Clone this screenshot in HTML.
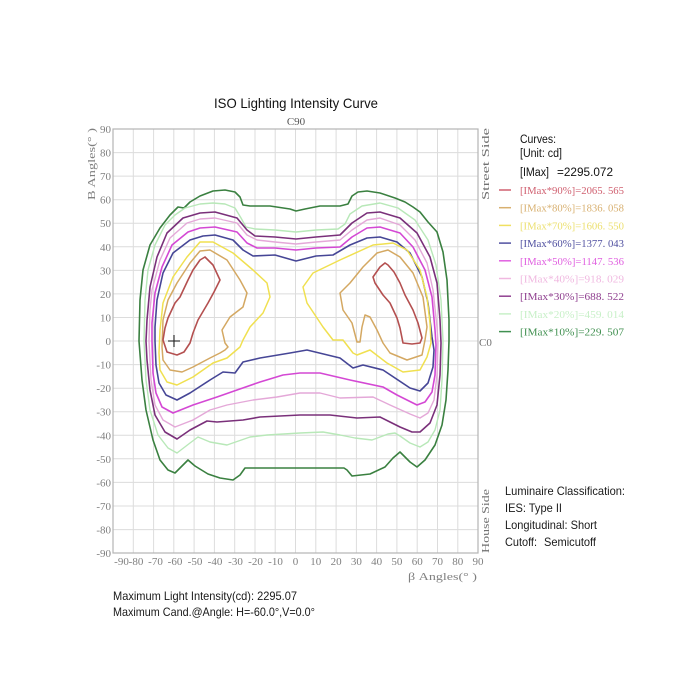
<!DOCTYPE html>
<html><head><meta charset="utf-8"><style>
html,body{margin:0;padding:0;background:#fff;}
svg{display:block;}
.ser{font-family:"Liberation Serif",serif;}
.san{font-family:"Liberation Sans",sans-serif;}
</style></head><body>
<svg width="700" height="700" viewBox="0 0 700 700" xmlns="http://www.w3.org/2000/svg">
<rect width="700" height="700" fill="#fff"/>
<!-- grid -->
<g stroke="#dcdcdc" stroke-width="1">
<line x1="133.3" y1="129" x2="133.3" y2="553"/><line x1="153.6" y1="129" x2="153.6" y2="553"/><line x1="173.8" y1="129" x2="173.8" y2="553"/><line x1="194.1" y1="129" x2="194.1" y2="553"/><line x1="214.4" y1="129" x2="214.4" y2="553"/><line x1="234.7" y1="129" x2="234.7" y2="553"/><line x1="255" y1="129" x2="255" y2="553"/><line x1="275.2" y1="129" x2="275.2" y2="553"/><line x1="295.5" y1="129" x2="295.5" y2="553"/><line x1="315.8" y1="129" x2="315.8" y2="553"/><line x1="336.1" y1="129" x2="336.1" y2="553"/><line x1="356.4" y1="129" x2="356.4" y2="553"/><line x1="376.6" y1="129" x2="376.6" y2="553"/><line x1="396.9" y1="129" x2="396.9" y2="553"/><line x1="417.2" y1="129" x2="417.2" y2="553"/><line x1="437.5" y1="129" x2="437.5" y2="553"/><line x1="457.8" y1="129" x2="457.8" y2="553"/>
<line x1="113" y1="152.6" x2="478" y2="152.6"/><line x1="113" y1="176.1" x2="478" y2="176.1"/><line x1="113" y1="199.7" x2="478" y2="199.7"/><line x1="113" y1="223.2" x2="478" y2="223.2"/><line x1="113" y1="246.8" x2="478" y2="246.8"/><line x1="113" y1="270.4" x2="478" y2="270.4"/><line x1="113" y1="293.9" x2="478" y2="293.9"/><line x1="113" y1="317.5" x2="478" y2="317.5"/><line x1="113" y1="341" x2="478" y2="341"/><line x1="113" y1="364.6" x2="478" y2="364.6"/><line x1="113" y1="388.2" x2="478" y2="388.2"/><line x1="113" y1="411.7" x2="478" y2="411.7"/><line x1="113" y1="435.3" x2="478" y2="435.3"/><line x1="113" y1="458.8" x2="478" y2="458.8"/><line x1="113" y1="482.4" x2="478" y2="482.4"/><line x1="113" y1="506" x2="478" y2="506"/><line x1="113" y1="529.6" x2="478" y2="529.6"/>
</g>
<rect x="113" y="129" width="365" height="424" fill="none" stroke="#b4b4b4" stroke-width="1.2"/>

<!-- title -->
<text class="san" x="296" y="108" font-size="14" text-anchor="middle" fill="#111" textLength="164" lengthAdjust="spacingAndGlyphs">ISO Lighting Intensity Curve</text>
<text class="ser" x="296" y="125" font-size="11" text-anchor="middle" fill="#555">C90</text>

<!-- y labels -->
<g class="ser" font-size="11" fill="#808080" text-anchor="end">
<text x="111" y="133">90</text><text x="111" y="156.6">80</text><text x="111" y="180.1">70</text><text x="111" y="203.7">60</text><text x="111" y="227.2">50</text><text x="111" y="250.8">40</text><text x="111" y="274.4">30</text><text x="111" y="297.9">20</text><text x="111" y="321.5">10</text><text x="111" y="345">0</text><text x="111" y="368.6">-10</text><text x="111" y="392.2">-20</text><text x="111" y="415.7">-30</text><text x="111" y="439.3">-40</text><text x="111" y="462.8">-50</text><text x="111" y="486.4">-60</text><text x="111" y="510">-70</text><text x="111" y="533.6">-80</text><text x="111" y="557">-90</text>
</g>
<!-- x labels -->
<g class="ser" font-size="11" fill="#808080" text-anchor="middle">
<text x="121.5" y="565">-90</text><text x="136" y="565">-80</text><text x="155.5" y="565">-70</text><text x="175" y="565">-60</text><text x="195" y="565">-50</text><text x="215" y="565">-40</text><text x="235.5" y="565">-30</text><text x="255.5" y="565">-20</text><text x="275.5" y="565">-10</text><text x="295.5" y="565">0</text><text x="315.8" y="565">10</text><text x="336.1" y="565">20</text><text x="356.4" y="565">30</text><text x="376.6" y="565">40</text><text x="396.9" y="565">50</text><text x="417.2" y="565">60</text><text x="437.5" y="565">70</text><text x="457.8" y="565">80</text><text x="478" y="565">90</text>
</g>
<text class="ser" x="408" y="580" font-size="11" fill="#808080" textLength="69" lengthAdjust="spacingAndGlyphs">β Angles(° )</text>
<text class="ser" transform="translate(95,200) rotate(-90)" font-size="11" fill="#808080" textLength="72" lengthAdjust="spacingAndGlyphs">B Angles(° )</text>
<text class="ser" transform="translate(489,200) rotate(-90)" font-size="11" fill="#707070" textLength="72" lengthAdjust="spacingAndGlyphs">Street Side</text>
<text class="ser" transform="translate(489,553) rotate(-90)" font-size="11" fill="#707070" textLength="64" lengthAdjust="spacingAndGlyphs">House Side</text>
<text class="ser" x="479" y="346" font-size="11" fill="#707070">C0</text>

<!-- curves -->
<g fill="none" stroke-linejoin="round" stroke-linecap="round">
<polyline stroke="#3a8040" stroke-width="1.6" points="139,341 140,300 143,270 150,245 160,228 170,215 178,207 184,208 190,202 200,196 213,191 225,190 235,192 240,197 243,205 250,206 270,206 290,209 296,211 305,209 320,206 340,206 348,204 352,196 358,192 367,191 380,193 395,198 405,202 413,207 420,212 428,222 437,232 443,252 447,280 449,320 449,341 448,370 446,400 442,425 435,445 425,460 417,467 410,462 400,452 393,458 385,467 370,474 352,476 347,470 344,468 300,468 260,468 245,468 240,475 233,480 220,478 208,474 195,466 188,460 182,466 175,473 168,470 160,460 153,440 146,410 142,380 139,341"/>
<polyline stroke="#b8e8b8" stroke-width="1.4" points="177,453 168,448 158,435 150,410 146,380 144,341 145,300 148,270 155,245 165,225 175,215 185,208 200,204 213,203 225,204 235,208 241,218 246,227 255,229 275,230 296,232 316,230 338,229 345,224 350,214 362,206 380,203 398,208 415,220 428,240 436,265 441,300 443,341 442,380 440,410 435,430 428,442 420,447 410,443 400,436 395,433 388,434 372,440 355,438 340,435 323,432 300,433 267,435 250,437 227,445 210,442 198,437 190,443 177,453"/>
<polyline stroke="#7a307a" stroke-width="1.6" points="177,439 165,432 155,415 150,390 147,360 146,341 147,320 150,287 157,257 167,233 183,218 200,213 215,212 237,218 247,230 255,236 275,237 296,239 316,237 340,235 352,223 367,213 380,212 400,218 417,233 430,257 437,283 440,320 441,343 440,375 437,405 430,423 420,432 412,432 400,427 390,422 380,417 357,418 330,415 300,415 260,417 243,420 217,422 207,421 190,430 177,439"/>
<polyline stroke="#e4a8d8" stroke-width="1.4" points="175,427 163,420 155,405 151,380 149,341 150,310 152,290 160,260 170,238 187,223 200,219 215,218 237,223 247,235 257,240 275,242 296,244 316,242 340,240 352,230 367,220 380,218 400,225 415,240 427,263 433,290 437,327 438,343 437,375 434,400 428,413 420,418 410,414 390,405 373,397 340,398 320,393 300,393 277,397 253,400 227,405 210,410 193,420 175,427"/>
<polyline stroke="#d448d4" stroke-width="1.6" points="173,413 162,407 156,393 153,373 152,341 152,323 155,293 162,267 172,245 188,232 200,228 215,227 237,232 247,243 257,248 275,248 296,250 316,248 340,247 352,237 367,228 380,227 400,233 413,247 425,270 432,297 435,330 436,345 435,375 432,392 425,402 417,405 397,395 383,387 350,380 320,373 300,373 283,375 260,382 237,390 217,397 193,405 173,413"/>
<polyline stroke="#464696" stroke-width="1.6" points="177,400 166,395 159,383 156,365 155,341 155,327 157,300 163,273 173,253 190,240 203,236 215,235 233,240 243,250 253,256 275,255 296,261 316,256 333,255 350,245 367,238 380,237 397,242 410,253 422,277 428,303 432,337 434,350 433,367 428,383 420,391 410,388 383,370 363,365 353,368 340,358 307,350 290,353 260,358 243,362 235,373 223,372 210,380 190,393 177,400"/>
<polyline stroke="#f0e050" stroke-width="1.5" points="160,330 163,303 173,277 187,257 200,242 213,242 233,253 253,270 267,283 270,297 263,313 250,327 243,340 240,347 227,358 213,363 193,377 177,385 167,382 160,370 159,353 160,330"/>
<polyline stroke="#f0e050" stroke-width="1.5" points="303,287 313,273 340,260 373,245 393,243 407,250 420,270 427,297 430,323 431,343 427,357 420,370 403,372 387,363 370,350 357,355 353,353 343,340 333,340 323,327 307,303 303,287"/>
<polyline stroke="#d4a862" stroke-width="1.5" points="162,347 163,320 168,300 177,283 190,263 200,251 210,250 227,260 240,280 247,293 243,307 230,317 222,330 225,343 228,347 225,350 220,353 210,358 193,367 182,372 170,370 163,360 162,347"/>
<polyline stroke="#d4a862" stroke-width="1.5" points="388,250 377,253 363,267 350,283 340,293 343,310 352,323 357,342 360,342 362,327 365,315 370,317 377,330 383,343 390,353 407,360 422,355 425,340 427,327 423,297 413,273 400,257 388,250"/>
<polyline stroke="#b45050" stroke-width="1.6" points="205,257 213,265 220,280 214,292 208,303 198,320 193,333 190,343 184,352 177,355 167,352 163,340 165,328 168,318 175,303 180,297 188,280 193,270 200,260 205,257"/>
<polyline stroke="#b45050" stroke-width="1.6" points="385,263 380,267 373,277 375,283 383,295 390,303 397,318 400,328 403,343 412,344 420,343 422,338 418,323 413,310 405,295 400,283 394,272 388,265 385,263"/>
</g>
<!-- max marker -->
<g stroke="#222" stroke-width="1.1"><line x1="168" y1="341" x2="180" y2="341"/><line x1="174" y1="335" x2="174" y2="347"/></g>

<!-- legend -->
<g class="san" font-size="11.5" fill="#111">
<text x="520" y="143" textLength="36" lengthAdjust="spacingAndGlyphs">Curves:</text>
<text x="520" y="157" textLength="42" lengthAdjust="spacingAndGlyphs">[Unit: cd]</text>
<text x="520" y="176" textLength="29" lengthAdjust="spacingAndGlyphs">[IMax]</text>
<text x="557" y="176" textLength="56" lengthAdjust="spacingAndGlyphs">=2295.072</text>
</g>
<g class="ser" font-size="11" stroke-width="1.5">
<line x1="499" y1="190" x2="511" y2="190" stroke="#d06070"/><text x="520" y="194" fill="#d06070" textLength="104" lengthAdjust="spacingAndGlyphs">[IMax*90%]=2065. 565</text>
<line x1="499" y1="207.7" x2="511" y2="207.7" stroke="#d8b070"/><text x="520" y="211.7" fill="#d8b070" textLength="104" lengthAdjust="spacingAndGlyphs">[IMax*80%]=1836. 058</text>
<line x1="499" y1="225.4" x2="511" y2="225.4" stroke="#f0e060"/><text x="520" y="229.4" fill="#ece070" textLength="104" lengthAdjust="spacingAndGlyphs">[IMax*70%]=1606. 550</text>
<line x1="499" y1="243.1" x2="511" y2="243.1" stroke="#5050a0"/><text x="520" y="247.1" fill="#5050a0" textLength="104" lengthAdjust="spacingAndGlyphs">[IMax*60%]=1377. 043</text>
<line x1="499" y1="260.8" x2="511" y2="260.8" stroke="#e060e0"/><text x="520" y="264.8" fill="#e060e0" textLength="104" lengthAdjust="spacingAndGlyphs">[IMax*50%]=1147. 536</text>
<line x1="499" y1="278.5" x2="511" y2="278.5" stroke="#f0b8e0"/><text x="520" y="282.5" fill="#f0b8e0" textLength="104" lengthAdjust="spacingAndGlyphs">[IMax*40%]=918. 029</text>
<line x1="499" y1="296.2" x2="511" y2="296.2" stroke="#904090"/><text x="520" y="300.2" fill="#904090" textLength="104" lengthAdjust="spacingAndGlyphs">[IMax*30%]=688. 522</text>
<line x1="499" y1="313.9" x2="511" y2="313.9" stroke="#c8f0c8"/><text x="520" y="317.9" fill="#c8f0c8" textLength="104" lengthAdjust="spacingAndGlyphs">[IMax*20%]=459. 014</text>
<line x1="499" y1="331.6" x2="511" y2="331.6" stroke="#409050"/><text x="520" y="335.6" fill="#409050" textLength="104" lengthAdjust="spacingAndGlyphs">[IMax*10%]=229. 507</text>
</g>

<!-- classification -->
<g class="san" font-size="12" fill="#1a1a1a">
<text x="505" y="495" textLength="120" lengthAdjust="spacingAndGlyphs">Luminaire Classification:</text>
<text x="505" y="512" textLength="57" lengthAdjust="spacingAndGlyphs">IES: Type II</text>
<text x="505" y="529" textLength="92" lengthAdjust="spacingAndGlyphs">Longitudinal: Short</text>
<text x="505" y="546" textLength="32" lengthAdjust="spacingAndGlyphs">Cutoff:</text>
<text x="544" y="546" textLength="52" lengthAdjust="spacingAndGlyphs">Semicutoff</text>
</g>
<g class="san" font-size="12" fill="#1a1a1a">
<text x="113" y="600" textLength="184" lengthAdjust="spacingAndGlyphs">Maximum Light Intensity(cd): 2295.07</text>
<text x="113" y="616" textLength="202" lengthAdjust="spacingAndGlyphs">Maximum Cand.@Angle: H=-60.0°,V=0.0°</text>
</g>
</svg>
</body></html>
